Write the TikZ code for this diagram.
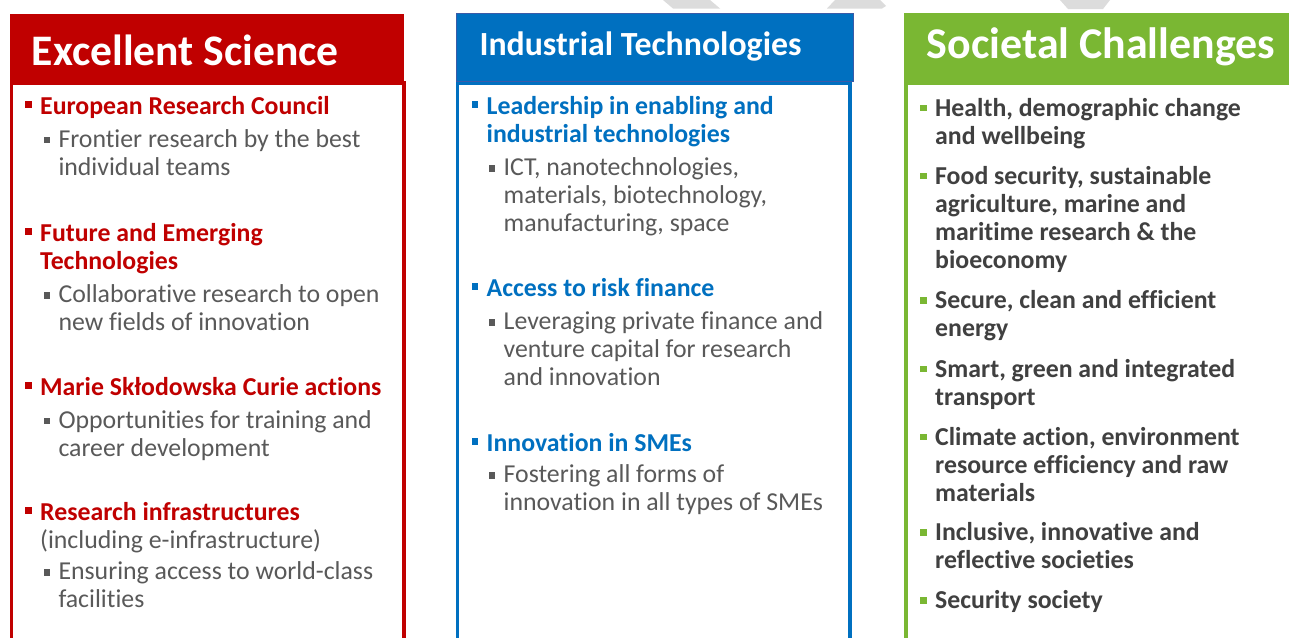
\documentclass[tikz,border=0pt]{standalone}
\usepackage{fontspec}
\setmainfont{Carlito}[Ligatures=NoCommon]
\definecolor{esred}{HTML}{C00000}
\definecolor{itblue}{HTML}{0070C0}
\definecolor{itedge}{HTML}{3A5BA8}
\definecolor{scgreen}{HTML}{7AB733}
\definecolor{subgrey}{HTML}{595959}
\definecolor{scgrey}{HTML}{404040}
\definecolor{markgrey}{HTML}{DCDCDC}
\newcommand\sqbul[2]{\rule{0pt}{22pt}\llap{\textcolor{#1}{\rule[#2]{6.5pt}{6.5pt}}\hspace{8.5pt}}}
\newcommand\listfont{\fontsize{25.8}{28}\selectfont}
\tikzset{
  head/.style={fill=#1, anchor=north west, inner sep=0pt},
  headtext/.style={anchor=base west, inner sep=0pt, text=white,
    font=\bfseries\fontsize{#1}{#1}\selectfont},
  colframe/.style={draw=#1, line width=3.5pt},
  mainitem/.style={anchor=north west, inner sep=0pt, align=left,
    font=\listfont\bfseries, text=#1},
  subitem/.style={anchor=north west, inner sep=0pt, align=left,
    font=\listfont, text=subgrey},
}
\begin{document}
\begin{tikzpicture}[x=1pt,y=-1pt]
  \useasboundingbox (0,0) rectangle (1289,637);
  \fill[white] (0,0) rectangle (1289,637);
  \clip (0,0) rectangle (1289,637);
  % faint marks at the top edge
  \fill[markgrey] (663,0) -- (710,0) -- (720,8.5) -- (673,8.5) -- cycle;
  \fill[markgrey] (835,0) -- (880,0) -- (886,6) -- (882,8.5) -- (827,8.5) -- cycle;
  \fill[markgrey] (1060,0) -- (1110,0) -- (1103,9) -- (1068,9) -- cycle;
  % column frames
  \draw[colframe=esred] (11.3,660) |- (404,83) -- (404,660);
  \draw[colframe=itblue] (457.5,660) |- (850,83) -- (850,660);
  \draw[colframe=scgreen] (906,660) |- (1320,83);
  % headers
  \node[head=esred, minimum width=394.7pt, minimum height=67.7pt] (es) at (9.3,14) {};
  \node[head=itblue, draw=itedge, line width=1pt, minimum width=397pt, minimum height=68pt] (it) at (455.5,13.2) {};
  \node[head=scgreen, minimum width=400pt, minimum height=70.6pt] (sc) at (904,12.7) {};
  \node[headtext=43.6] (estitle) at (31.7,65) {Excellent Science};
  \node[headtext=33.8] (ittitle) at (479.3,55) {Industrial Technologies};
  \node[headtext=43.9] (sctitle) at (926.7,58.3) {Societal Challenges};
  % excellent science
  \node[mainitem=esred] (erc) at (40,92) {\sqbul{esred}{6.5pt}European Research Council};
  \node[subitem] (ercsub) at (58.3,125) {\sqbul{subgrey}{4pt}Frontier research by the best\\individual teams};
  \node[mainitem=esred] (fet) at (40,219) {\sqbul{esred}{6.5pt}Future and Emerging\\Technologies};
  \node[subitem] (fetsub) at (58.3,280.5) {\sqbul{subgrey}{4pt}Collaborative research to open\\new fields of innovation};
  \node[mainitem=esred] (msca) at (40,373) {\sqbul{esred}{6.5pt}Marie Skłodowska Curie actions};
  \node[subitem] (mscasub) at (58.3,406) {\sqbul{subgrey}{4pt}Opportunities for training and\\career development};
  \node[subitem] (ri) at (40,498) {\sqbul{esred}{6.5pt}\textcolor{esred}{\bfseries Research infrastructures}\\(including e-infrastructure)};
  \node[subitem] (risub) at (58.3,557.5) {\sqbul{subgrey}{4pt}Ensuring access to world-class\\facilities};
  % industrial technologies
  \node[mainitem=itblue] (leit) at (486.5,92) {\sqbul{itblue}{6.5pt}Leadership in enabling and\\industrial technologies};
  \node[subitem] (leitsub) at (503.5,153.5) {\sqbul{subgrey}{4pt}ICT, nanotechnologies,\\materials, biotechnology,\\manufacturing, space};
  \node[mainitem=itblue] (risk) at (486.5,274) {\sqbul{itblue}{6.5pt}Access to risk finance};
  \node[subitem] (risksub) at (503.5,307.5) {\sqbul{subgrey}{4pt}Leveraging private finance and\\venture capital for research\\and innovation};
  \node[mainitem=itblue] (sme) at (486.5,429) {\sqbul{itblue}{6.5pt}Innovation in SMEs};
  \node[subitem] (smesub) at (503.5,460.5) {\sqbul{subgrey}{4pt}Fostering all forms of\\innovation in all types of SMEs};
  % societal challenges
  \node[mainitem=scgrey] (health) at (935,94) {\sqbul{scgreen}{5pt}Health, demographic change\\and wellbeing};
  \node[mainitem=scgrey] (food) at (935,162) {\sqbul{scgreen}{5pt}Food security, sustainable\\agriculture, marine and\\maritime research \& the\\bioeconomy};
  \node[mainitem=scgrey] (energy) at (935,286.5) {\sqbul{scgreen}{5pt}Secure, clean and efficient\\energy};
  \node[mainitem=scgrey] (transport) at (935,355) {\sqbul{scgreen}{5pt}Smart, green and integrated\\transport};
  \node[mainitem=scgrey] (climate) at (935,423) {\sqbul{scgreen}{5pt}Climate action, environment\\resource efficiency and raw\\materials};
  \node[mainitem=scgrey] (inclusive) at (935,518.5) {\sqbul{scgreen}{5pt}Inclusive, innovative and\\reflective societies};
  \node[mainitem=scgrey] (security) at (935,586.5) {\sqbul{scgreen}{5pt}Security society};
\end{tikzpicture}
\end{document}
